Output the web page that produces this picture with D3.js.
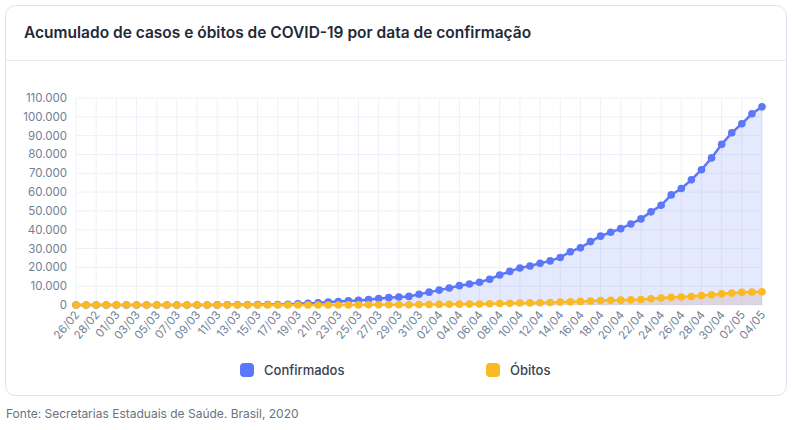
<!DOCTYPE html><html><head><meta charset="utf-8"><script src="https://cdn.jsdelivr.net/npm/d3@7"></script>
<style>body{margin:0;background:#fff;font-family:Inter,"Noto Sans",sans-serif}</style></head><body><svg id="c" width="793" height="430"></svg>
<script>
const dates=["26/02","27/02","28/02","29/02","01/03","02/03","03/03","04/03","05/03","06/03","07/03","08/03","09/03","10/03","11/03","12/03","13/03","14/03","15/03","16/03","17/03","18/03","19/03","20/03","21/03","22/03","23/03","24/03","25/03","26/03","27/03","28/03","29/03","30/03","31/03","01/04","02/04","03/04","04/04","05/04","06/04","07/04","08/04","09/04","10/04","11/04","12/04","13/04","14/04","15/04","16/04","17/04","18/04","19/04","20/04","21/04","22/04","23/04","24/04","25/04","26/04","27/04","28/04","29/04","30/04","01/05","02/05","03/05","04/05"];
const confirmados=[1,1,1,2,2,2,2,3,8,13,19,25,25,34,52,77,98,121,200,234,291,428,621,904,1128,1546,1891,2201,2433,2915,3417,3904,4256,4579,5717,6836,7910,9056,10278,11130,12056,13717,15927,17857,19638,20727,22169,23430,25262,28320,30425,33682,36599,38654,40581,43079,45757,49492,52995,58509,61888,66501,71886,78162,85380,91500,96300,101600,105300];
const obitos=[0,0,0,0,0,0,0,0,0,0,0,0,0,0,0,0,0,0,0,0,1,4,7,11,18,25,34,46,57,77,92,114,136,159,201,240,324,359,445,486,553,667,800,941,1056,1124,1223,1328,1532,1736,1924,2141,2354,2462,2587,2741,2906,3331,3704,4057,4271,4543,5017,5466,5901,6329,6750,6900,7000];
const yTicks=[0,10000,20000,30000,40000,50000,60000,70000,80000,90000,100000,110000];
const svg=d3.select("#c");
svg.append("rect").attr("x",5.5).attr("y",5.5).attr("width",781).attr("height",390).attr("rx",10).attr("fill","#fff").attr("stroke","#dde3ee");
svg.append("text").attr("x",24).attr("y",38).text("Acumulado de casos e óbitos de COVID-19 por data de confirmação").attr("font-size",15.5).attr("font-weight",600).attr("fill","#1f2937");
svg.append("line").attr("x1",6).attr("x2",786).attr("y1",60.5).attr("y2",60.5).attr("stroke","#e6ebf3");
const x=d3.scalePoint().domain(dates).range([76,762]);
const y=d3.scaleLinear().domain([0,110000]).range([305,98]);
const g=svg.append("g");
g.selectAll(".vg").data(dates.filter((d,i)=>i%2==0)).join("line").attr("x1",d=>x(d)).attr("x2",d=>x(d)).attr("y1",98).attr("y2",305).attr("stroke","#edf1f7");
g.append("line").attr("x1",762).attr("x2",762).attr("y1",98).attr("y2",305).attr("stroke","#edf1f7");
g.selectAll(".hg").data(yTicks).join("line").attr("x1",76).attr("x2",762).attr("y1",d=>y(d)).attr("y2",d=>y(d)).attr("stroke","#edf1f7");
const fmt=d=>d3.format(",")(d).replace(/,/g,".");
g.selectAll(".yl").data(yTicks).join("text").attr("x",67).attr("y",d=>y(d)+4).attr("text-anchor","end").attr("font-size",11.5).attr("fill","#718096").text(fmt);
g.selectAll(".xl").data(dates.filter((d,i)=>i%2==0)).join("text").attr("transform",d=>`translate(${x(d)+4},${315}) rotate(-50)`).attr("text-anchor","end").attr("font-size",11.5).attr("fill","#718096").text(d=>d);
function series(vals,col,fill){
 const pts=vals.map((v,i)=>[x(dates[i]),y(v)]);
 g.append("path").attr("d",d3.area().x(d=>d[0]).y0(305).y1(d=>d[1])(pts)).attr("fill",fill);
 g.append("path").attr("d",d3.line()(pts)).attr("fill","none").attr("stroke",col).attr("stroke-width",2.5);
 g.selectAll(null).data(pts).join("circle").attr("cx",d=>d[0]).attr("cy",d=>d[1]).attr("r",3.8).attr("fill",col);
}
series(confirmados,"#5c77f8","rgba(92,119,248,0.16)");
series(obitos,"#fbb924","rgba(200,180,170,0.35)");
const leg=[["Confirmados","#5c77f8",247],["Óbitos","#fbb924",493]];
leg.forEach(([t,c,lx])=>{svg.append("rect").attr("x",lx-7).attr("y",363).attr("width",14).attr("height",14).attr("rx",4).attr("fill",c);
svg.append("text").attr("x",lx+17).attr("y",375).text(t).attr("font-size",13).attr("font-weight",500).attr("fill","#374151");});
svg.append("text").attr("x",6).attr("y",418).text("Fonte: Secretarias Estaduais de Saúde. Brasil, 2020").attr("font-size",12).attr("fill","#6b7280");
</script></body></html>
